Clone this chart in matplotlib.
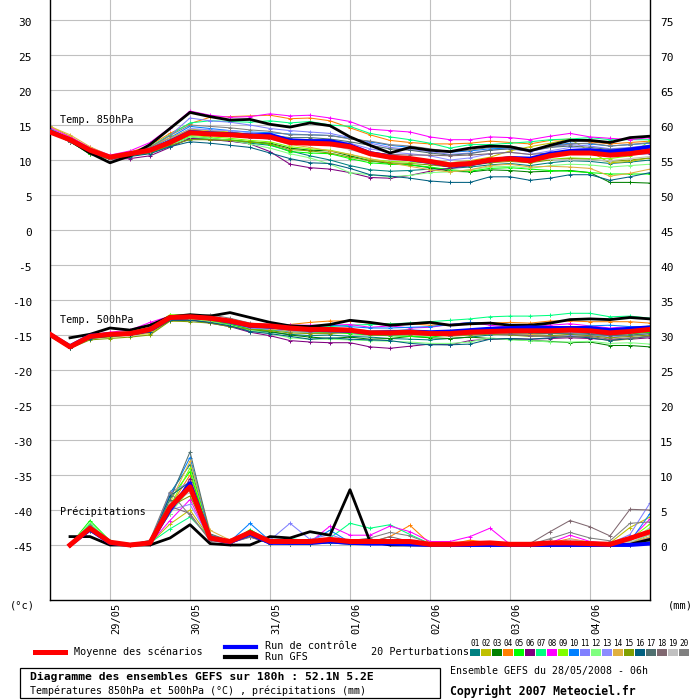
import numpy as np
import matplotlib
matplotlib.use("Agg")
import matplotlib.pyplot as plt
from matplotlib.transforms import blended_transform_factory, offset_copy
from matplotlib.lines import Line2D
from matplotlib.patches import Rectangle

plt.rcParams['font.family'] = ['DejaVu Sans Mono']
nan = np.nan

# ---------------- data ----------------
hours = list(range(0, 181, 6))
day_hours = [18, 42, 66, 90, 114, 138, 162]
day_labels = ['29/05', '30/05', '31/05', '01/06', '02/06', '03/06', '04/06']
left_ticks = list(range(-45, 31, 5))
right_ticks = list(range(0, 76, 5))
member_ids = ['01', '02', '03', '04', '05', '06', '07', '08', '09', '10',
              '11', '12', '13', '14', '15', '16', '17', '18', '19', '20']
member_colors = ['#008080', '#c0c000', '#008000', '#ff8000', '#00ff00', '#800080',
                 '#00ff80', '#ff00ff', '#80ff00', '#0080ff', '#8080ff', '#80ff80',
                 '#8c8cff', '#e0b040', '#80a000', '#006080', '#507070', '#806870',
                 '#c0c0c0', '#808080']

# 850 hPa temperature (°C)
m01_850 = [14.2,12.7,11.1,10.2,10.6,11.0,12.0,13.0,12.9,12.7, 12.4,12.1,11.3,10.6,10.0,9.2,8.6,8.4,8.5,8.7, 8.8,9.0,9.3,9.5,9.2,9.6,9.9,9.8,9.5,9.7, 10.0]
m02_850 = [14.8,13.4,11.6,10.6,11.0,11.8,13.1,14.4,14.2,14.0, 13.7,13.5,12.9,12.8,12.6,12.0,11.0,10.5,10.3,10.0, 9.6,9.9,10.4,11.3,11.9,12.4,13.0,11.2,9.6,9.8, 10.3]
m03_850 = [14.3,12.7,10.8,10.2,10.6,11.0,12.3,13.3,13.1,12.8, 12.6,12.4,11.7,11.4,11.3,10.6,9.9,9.5,9.3,8.9, 8.4,8.3,8.6,8.5,8.3,8.4,8.5,8.2,6.8,6.8, 6.7]
m04_850 = [14.4,13.1,11.5,10.5,11.1,12.1,13.8,15.2,16.1,16.2, 16.3,16.4,15.9,16.0,15.6,14.6,13.6,12.8,12.5,12.3, 12.3,12.4,12.7,12.5,12.3,12.8,13.0,12.6,12.3,12.5, 12.7]
m05_850 = [14.2,12.6,10.9,10.1,10.6,11.1,12.3,13.2,13.0,12.9, 12.6,12.2,11.2,11.0,10.9,10.2,9.6,9.4,9.3,9.0, 8.6,8.4,8.8,8.9,8.7,8.5,8.4,8.2,8.0,8.0, 8.0]
m06_850 = [14.0,12.6,11.0,10.1,10.2,10.6,11.8,13.1,12.9,12.7, 12.3,11.2,9.4,8.9,8.7,8.2,7.5,7.4,7.8,8.4, 8.8,9.2,9.8,10.2,10.3,10.8,11.2,11.4,11.0,10.8, 10.9]
m07_850 = [14.5,13.0,11.4,10.5,10.9,11.9,13.6,15.3,15.6,15.5, 15.4,15.6,15.3,15.5,15.0,14.8,13.8,13.3,12.9,12.4, 11.7,12.2,12.2,12.4,12.6,12.9,13.0,13.2,12.9,12.9, 12.9]
m08_850 = [14.6,13.3,11.8,10.7,11.3,12.5,14.6,17.0,16.4,16.1, 16.2,16.6,16.3,16.4,16.0,15.5,14.4,14.2,14.0,13.3, 12.9,12.9,13.3,13.2,12.9,13.4,13.8,13.3,13.1,12.9, 13.2]
m09_850 = [14.3,12.8,11.2,10.3,10.7,11.2,12.4,13.5,13.3,13.1, 12.8,12.6,11.9,11.6,11.4,10.8,10.1,9.8,9.7,9.6, 9.3,9.5,9.8,10.0,9.8,10.1,10.3,10.2,10.2,10.6, 12.8]
m10_850 = [14.2,12.8,11.3,10.3,10.8,11.6,13.2,14.8,14.5,14.2, 14.0,13.9,13.7,13.6,13.5,13.1,12.6,12.1,11.8,11.5, 11.1,11.3,11.6,11.7,11.4,12.0,12.4,12.3,12.0,12.2, 12.4]
m11_850 = [14.3,12.8,11.2,10.3,10.8,11.7,13.5,16.0,15.6,15.4, 15.0,14.5,14.2,14.0,13.8,13.2,12.4,11.8,11.5,11.2, 10.8,11.0,11.4,11.6,11.2,11.8,12.2,12.0,11.6,11.8, 12.1]
m12_850 = [14.0,12.6,11.0,10.1,10.6,11.0,12.2,13.3,13.1,12.8, 12.3,11.7,10.9,10.3,9.4,8.2,7.9,7.6,7.8,8.2, 8.3,8.6,9.0,9.1,8.8,9.2,9.4,9.3,9.0,9.2, 9.4]
m13_850 = [14.2,12.8,11.3,10.3,10.8,11.5,13.0,14.5,14.3,14.2, 13.9,13.7,13.0,12.9,12.9,12.4,11.6,11.1,10.9,10.6, 10.0,10.3,10.9,11.1,10.8,11.3,11.8,11.6,11.2,11.4, 11.7]
m14_850 = [14.8,13.6,11.9,10.6,11.1,11.9,13.2,14.3,14.1,13.9, 13.4,13.0,12.2,11.8,11.3,10.8,10.2,9.6,9.1,8.6, 8.3,8.6,9.2,9.4,9.0,9.1,9.0,8.8,7.7,8.1, 8.7]
m15_850 = [14.1,12.6,11.0,10.2,10.6,11.0,12.1,12.9,12.9,12.8, 12.6,12.3,11.5,11.3,11.0,10.4,9.9,9.6,9.5,9.3, 9.0,9.2,9.6,9.8,9.6,10.0,10.2,10.1,9.8,10.0, 10.3]
m16_850 = [14.1,12.6,11.0,10.2,10.5,10.9,11.9,12.6,12.4,12.1, 11.8,11.0,10.2,9.6,9.5,8.8,7.9,7.7,7.4,7.0, 6.8,6.8,7.6,7.6,7.1,7.4,7.9,7.9,7.1,7.6, 8.2]
m17_850 = [14.1,12.7,11.2,10.3,10.9,11.4,12.9,14.2,14.0,13.9, 13.7,13.5,13.2,13.2,13.0,12.6,12.1,11.6,11.4,11.0, 10.7,10.9,11.4,11.6,11.3,11.8,12.0,11.8,11.5,11.7, 11.9]
m18_850 = [14.0,12.6,11.1,10.2,10.7,11.3,12.6,13.8,13.6,13.4, 13.2,13.0,12.6,12.5,12.3,11.8,11.1,10.8,10.7,10.7, 10.6,10.7,10.9,11.1,10.8,11.0,11.3,11.2,11.0,11.3, 11.5]
m19_850 = [14.1,12.7,11.1,10.3,10.8,11.3,12.7,14.0,13.8,13.6, 13.3,13.2,12.3,12.2,12.1,11.5,10.7,10.2,10.0,9.8, 9.6,9.8,10.1,10.2,10.0,10.1,10.0,10.0,9.9,10.2, 10.5]
m20_850 = [14.3,12.9,11.3,10.4,10.9,11.8,13.5,15.0,14.8,14.6, 14.3,14.1,13.6,13.6,13.5,13.0,12.7,12.2,12.0,11.6, 11.2,11.4,11.8,12.0,11.5,11.9,12.3,12.4,12.0,12.2, 12.5]
mean_850 = [14.0,12.9,11.4,10.4,10.9,11.4,12.5,13.9,13.7,13.6, 13.4,13.3,12.5,12.4,12.3,11.9,10.9,10.4,10.2,9.8, 9.3,9.5,10.0,10.2,9.9,10.6,11.0,11.0,10.7,10.9, 11.3]
ctrl_850 = [14.1,12.9,11.4,10.4,10.9,11.4,12.6,14.0,13.8,13.7, 13.5,13.6,12.8,12.7,12.7,12.1,11.0,10.5,10.1,9.7, 9.2,9.4,9.9,10.3,10.2,10.9,11.3,11.4,11.2,11.5, 11.9]
gfs_850 = [nan,12.8,11.0,9.6,10.6,12.2,14.5,16.8,16.2,15.7, 15.8,15.1,14.7,15.3,14.9,13.3,12.1,11.0,11.8,11.4, 11.2,11.7,12.0,11.9,11.3,12.1,12.8,12.8,12.5,13.2, 13.4]

# 500 hPa temperature (°C)
m01_500 = [-15.0,-16.8,-15.4,-15.1,-14.9,-14.4,-12.8,-12.8,-13.2,-13.6, -14.4,-14.6,-14.9,-15.1,-15.0,-15.2,-15.3,-15.5,-15.6,-15.7, -15.5,-15.3,-15.0,-14.8,-14.9,-14.8,-14.6,-14.8,-15.0,-14.8, -14.6]
m02_500 = [-15.1,-16.8,-15.5,-15.3,-15.0,-14.8,-13.0,-12.9,-13.0,-13.4, -13.9,-14.0,-14.2,-14.4,-14.6,-14.5,-14.8,-14.7,-14.6,-14.8, -14.9,-14.5,-14.6,-14.7,-14.4,-14.3,-14.5,-14.6,-14.8,-14.6, -14.5]
m03_500 = [-15.0,-16.8,-15.4,-15.1,-14.9,-14.5,-12.9,-12.8,-13.2,-13.5, -14.2,-14.5,-15.0,-15.3,-15.5,-15.3,-15.6,-15.5,-15.2,-15.4, -15.5,-15.3,-15.5,-15.6,-15.8,-15.9,-16.1,-16.0,-16.5,-16.5, -16.7]
m04_500 = [-15.1,-16.9,-15.4,-15.0,-14.8,-14.2,-12.6,-12.5,-12.8,-13.2, -13.8,-13.7,-13.5,-13.2,-13.0,-13.0,-13.3,-13.4,-13.4,-13.6, -13.5,-13.4,-13.3,-13.2,-13.3,-13.0,-13.0,-13.1,-13.1,-13.1, -13.3]
m05_500 = [-14.9,-16.7,-15.2,-14.8,-14.7,-14.1,-12.5,-12.5,-12.9,-13.4, -14.1,-14.3,-14.5,-14.6,-14.6,-14.8,-15.0,-15.1,-15.2,-15.3, -15.0,-14.8,-14.6,-14.6,-14.7,-14.8,-14.6,-14.5,-14.9,-14.8, -14.6]
m06_500 = [-14.9,-16.8,-15.3,-15.0,-15.0,-14.6,-12.9,-12.8,-13.3,-13.8, -14.6,-15.1,-15.8,-16.0,-16.1,-16.1,-16.7,-16.9,-16.6,-16.3, -16.4,-15.8,-15.6,-15.5,-15.6,-15.5,-15.4,-15.5,-15.7,-15.6, -15.4]
m07_500 = [-15.0,-16.8,-15.3,-14.8,-14.6,-13.9,-12.2,-12.1,-12.4,-12.9, -13.5,-13.6,-13.8,-13.9,-13.8,-13.6,-13.5,-13.4,-13.3,-13.1, -12.9,-12.7,-12.4,-12.3,-12.3,-12.2,-11.9,-11.9,-12.4,-12.3, -12.6]
m08_500 = [-14.7,-16.5,-15.0,-14.6,-14.3,-13.2,-12.3,-12.3,-12.6,-13.0, -13.4,-13.5,-13.6,-13.6,-13.6,-13.5,-13.9,-13.7,-14.0,-13.9, -13.5,-13.2,-13.6,-13.9,-13.8,-13.6,-13.4,-13.7,-14.0,-13.8, -13.9]
m09_500 = [-14.8,-16.6,-15.1,-14.8,-14.5,-13.9,-12.1,-12.2,-12.5,-13.0, -13.7,-13.8,-14.1,-14.3,-14.2,-14.3,-14.6,-14.5,-14.4,-14.6, -14.6,-14.4,-14.2,-14.3,-14.2,-14.1,-14.0,-14.2,-14.4,-14.1, -13.7]
m10_500 = [-14.9,-16.7,-15.3,-14.9,-14.7,-14.0,-12.6,-12.3,-12.7,-13.2, -13.8,-14.0,-14.1,-13.9,-13.6,-13.8,-14.0,-14.0,-13.9,-13.8, -13.5,-13.2,-13.3,-13.5,-13.6,-13.8,-13.9,-13.7,-13.6,-13.8, -13.8]
m11_500 = [-15.0,-16.8,-15.4,-15.0,-14.9,-14.3,-12.7,-12.6,-12.8,-13.3, -14.0,-14.2,-14.5,-14.6,-14.4,-14.5,-14.8,-14.9,-14.8,-14.9, -15.0,-14.8,-14.9,-15.0,-15.1,-15.2,-15.0,-15.0,-15.3,-15.1, -14.8]
m12_500 = [-14.9,-16.7,-15.3,-14.9,-14.8,-14.4,-12.6,-12.7,-13.1,-13.6, -14.3,-14.8,-15.4,-15.6,-15.6,-15.7,-15.8,-15.9,-16.0,-16.2, -16.2,-16.0,-15.4,-15.7,-15.8,-16.0,-16.0,-15.9,-16.2,-16.1, -16.3]
m13_500 = [-14.9,-16.7,-15.2,-14.9,-14.7,-14.0,-12.4,-12.4,-12.6,-13.1, -13.7,-13.9,-14.2,-14.3,-14.4,-14.5,-14.6,-14.6,-14.5,-14.7, -14.7,-14.6,-14.4,-14.3,-14.4,-14.5,-14.6,-14.6,-14.9,-14.7, -14.4]
m14_500 = [-15.0,-16.7,-15.3,-15.0,-14.8,-14.3,-12.6,-12.5,-12.7,-13.1, -13.8,-14.1,-14.4,-14.4,-14.3,-14.4,-14.8,-14.8,-14.7,-14.9, -15.2,-15.0,-14.9,-14.8,-14.9,-15.1,-15.2,-15.3,-15.8,-15.6, -15.1]
m15_500 = [-15.2,-16.9,-15.7,-15.5,-15.3,-15.0,-13.0,-13.1,-13.3,-13.8, -14.2,-14.4,-14.7,-14.8,-14.8,-14.6,-14.7,-14.9,-15.0,-14.9, -15.1,-15.0,-14.9,-15.0,-15.2,-15.1,-14.9,-15.1,-15.4,-15.2, -15.0]
m16_500 = [-15.0,-16.9,-15.5,-15.2,-15.0,-14.5,-12.9,-12.9,-13.2,-13.7, -14.5,-14.8,-15.2,-15.6,-15.4,-15.6,-15.7,-15.8,-16.2,-16.4, -16.4,-16.3,-15.6,-15.5,-15.6,-15.4,-15.2,-15.4,-15.8,-15.5, -15.2]
m17_500 = [-14.9,-16.6,-15.2,-14.9,-14.7,-14.1,-12.5,-12.5,-12.8,-13.2, -13.7,-13.9,-14.3,-14.4,-14.3,-14.4,-14.7,-14.7,-14.6,-14.8, -14.9,-14.7,-14.6,-14.7,-14.7,-14.8,-14.8,-14.9,-15.1,-15.0, -14.8]
m18_500 = [-14.8,-16.6,-15.1,-14.8,-14.6,-14.0,-12.4,-12.4,-12.8,-13.2, -13.8,-14.0,-14.3,-14.5,-14.6,-14.6,-14.9,-15.0,-14.9,-15.0, -15.1,-14.9,-14.8,-14.9,-15.1,-15.2,-15.3,-15.2,-15.6,-15.4, -15.2]
m19_500 = [-14.8,-16.6,-15.2,-14.9,-14.7,-14.1,-12.4,-12.3,-12.4,-12.8, -13.4,-13.6,-13.8,-14.0,-14.1,-14.2,-14.4,-14.3,-14.3,-14.5, -14.5,-14.3,-14.2,-14.2,-14.2,-14.3,-14.2,-14.4,-14.6,-14.4, -14.1]
m20_500 = [-14.8,-16.6,-15.1,-14.8,-14.6,-14.0,-12.5,-12.3,-12.1,-12.6, -13.3,-13.6,-13.9,-14.0,-14.0,-14.2,-14.4,-14.4,-14.3,-14.5, -14.4,-14.2,-14.2,-14.0,-13.9,-14.0,-13.9,-14.1,-14.3,-14.1, -13.9]
mean_500 = [-14.9,-16.7,-15.2,-14.9,-14.8,-14.2,-12.5,-12.4,-12.6,-13.0, -13.6,-13.7,-14.0,-14.2,-14.2,-14.3,-14.7,-14.7,-14.6,-14.8, -14.8,-14.6,-14.5,-14.4,-14.4,-14.4,-14.3,-14.4,-14.7,-14.5, -14.2]
ctrl_500 = [-14.9,-16.6,-15.1,-14.9,-14.8,-14.2,-12.5,-12.4,-12.6,-13.1, -13.7,-13.8,-14.0,-14.2,-14.3,-14.4,-14.7,-14.6,-14.5,-14.6, -14.5,-14.3,-14.1,-14.0,-13.9,-14.0,-14.0,-14.0,-14.3,-14.1, -13.9]
gfs_500 = [nan,-15.4,-14.9,-14.0,-14.3,-13.6,-12.4,-12.1,-12.3,-11.8, -12.5,-13.2,-13.7,-13.8,-13.5,-12.9,-13.2,-13.6,-13.4,-13.2, -13.6,-13.4,-13.3,-13.6,-13.6,-13.3,-12.8,-12.7,-12.8,-12.5, -12.7]

# 6-hourly precipitation (mm)
m01_rr = [nan,0,2.3,0.4,0,0.4,7.4,11.5,1.2,0.5, 1.5,0.3,0.3,0.2,0.4,0.2,0.1,0.2,0.1,0, 0,0,0,0,0,0,0,0,0,0.1, 0.3]
m02_rr = [nan,0,2.0,0.3,0,0.2,3.0,5.0,0.9,0.4, 1.2,0.2,0.4,0.3,0.6,0.3,0.3,0.4,0.2,0, 0,0,0,0,0,0,0.3,0.2,0.3,2.5, 4.0]
m03_rr = [nan,0,2.6,0.5,0,0.5,6.0,8.5,1.0,0.6, 1.8,0.5,0.2,0.4,0.8,0.5,0.4,0.3,0.2,0, 0,0,0,0,0,0,0,0,0,0.1, 0.6]
m04_rr = [nan,0,2.2,0.4,0,0.3,5.5,10.0,1.5,0.5, 1.6,0.4,0.3,0.5,0.7,0.3,0.4,1.2,2.8,0.2, 0.1,0.7,0.3,0,0,0.3,0.9,0.4,0.2,0.4, 1.0]
m05_rr = [nan,0,3.5,0.6,0,0.6,6.5,10.5,1.0,0.3, 2.2,0.6,0.3,0.5,0.9,0.5,0.3,0.3,0.2,0, 0,0,0,0,0,0,0,0,0,0.3, 1.5]
m06_rr = [nan,0,2.1,0.3,0,0.4,4.5,9.5,0.8,0.4, 1.4,0.3,0.2,0.2,0.5,0.3,0.2,0.1,0.1,0, 0,0,0,0,0,0,0,0,0,0, 0.2]
m07_rr = [nan,0,3.0,0.5,0,0.3,2.3,4.0,1.1,0.5, 1.7,0.5,0.9,0.6,1.0,3.1,2.4,2.9,1.5,0.2, 0,0,0,0,0,0,0,0,0,0.2, 0.5]
m08_rr = [nan,0,2.4,0.4,0,0.2,3.5,6.5,0.7,0.2, 1.3,0.3,0.6,0.4,2.7,1.4,1.4,2.7,1.9,0.5, 0.5,1.2,2.4,0.1,0,0.3,1.4,0.5,0.2,0.8, 3.7]
m09_rr = [nan,0,2.5,0.4,0,0.5,5.5,11.0,1.3,0.6, 1.9,0.4,0.3,0.3,0.6,0.4,0.3,0.2,0.1,0, 0,0,0,0,0,0,0,0,0,0.8, 3.0]
m10_rr = [nan,0,2.3,0.5,0,0.6,7.0,12.5,1.4,0.5, 3.1,0.6,0.4,0.5,2.1,0.4,0.3,0.4,0.2,0, 0,0,0,0,0,0,0,0,0,0.5, 4.5]
m11_rr = [nan,0,2.2,0.3,0,0.4,7.5,9.0,1.0,0.4, 1.5,0.7,3.1,0.8,1.5,0.5,0.4,0.3,0.2,0, 0,0,0,0,0,0,0,0.1,0.2,1.5, 6.0]
m12_rr = [nan,0,3.2,0.5,0,0.3,4.5,8.0,1.0,0.3, 1.4,0.3,0.4,0.3,0.6,0.4,0.3,0.2,0.1,0, 0,0,0,0,0,0,0,0,0,0.5, 2.5]
m13_rr = [nan,0,2.1,0.3,0,0.3,5.0,5.8,0.9,0.2, 1.3,0.4,0.5,0.4,1.0,0.4,0.3,0.3,0.2,0, 0,0,0,0,0,0,0.2,0.1,0,0.3, 1.0]
m14_rr = [nan,0,2.6,0.5,0,0.4,6.0,12.0,2.1,0.7, 1.8,0.5,0.3,0.4,0.7,0.5,0.4,0.3,0.3,0, 0,0.2,0.1,0,0,0.2,0.5,0.3,0.1,0.3, 1.2]
m15_rr = [nan,0,2.2,0.4,0,0.5,5.5,7.0,1.0,0.4, 1.5,0.4,0.3,0.3,0.5,0.4,0.3,0.3,0.2,0, 0,0,0,0,0,0,0,0,0,0.2, 0.6]
m16_rr = [nan,0,2.0,0.3,0,0.4,7.0,9.0,0.8,0.3, 1.2,0.2,0.1,0.1,0.3,0.1,0.1,0.1,0,0, 0,0,0,0,0,0,0,0,0,0, 0.2]
m17_rr = [nan,0,2.4,0.4,0,0.6,6.5,13.3,1.6,0.6, 2.0,0.5,0.4,0.6,0.8,0.6,0.5,0.5,0.4,0.1, 0,0,0,0,0,0,0,0,0,0.2, 0.5]
m18_rr = [nan,0,2.1,0.3,0,0.3,5.5,4.5,0.6,0.3, 1.1,0.3,0.3,0.4,0.6,0.5,0.4,1.2,0.5,0.1, 0,0,0,0,0.2,1.9,3.5,2.6,1.3,5.1, 5.0]
m19_rr = [nan,0,2.3,0.4,0,0.4,6.0,7.5,1.0,0.4, 1.4,0.4,0.3,0.4,0.6,0.4,0.3,0.3,0.2,0, 0,0,0,0,0,0.1,0.8,0.4,0.2,0.4, 1.5]
m20_rr = [nan,0,2.8,0.5,0,0.7,7.6,4.2,0.8,0.3, 1.4,0.3,0.4,0.5,0.9,0.6,1.0,1.8,1.3,0.2, 0.1,0.1,0,0,0.1,0.9,1.8,1.0,0.6,3.1, 3.3]
mean_rr = [nan,0,2.4,0.4,0,0.3,5.4,8.3,1.0,0.5, 1.8,0.5,0.5,0.5,0.8,0.5,0.5,0.5,0.5,0.1, 0.1,0.2,0.3,0.1,0.1,0.3,0.3,0.2,0.1,0.95, 1.9]
ctrl_rr = [nan,0,2.2,0.3,0,0.3,5.0,8.8,1.0,0.4, 1.6,0.3,0.3,0.3,0.5,0.3,0.2,0.2,0.1,0, 0,0,0,0,0,0,0,0,0,0, 0.2]
gfs_rr = [nan,1.2,1.2,0,0,0,1.0,2.9,0.2,0, 0,1.2,1.0,1.9,1.4,7.9,0.5,0,0,0, 0,0,0,0,0,0,0,0,0,0.1, 0.8]

rr_offset = 45  # precipitation axis: 0 mm sits on -45 °C

members_850 = [m01_850, m02_850, m03_850, m04_850, m05_850, m06_850, m07_850, m08_850, m09_850, m10_850,
               m11_850, m12_850, m13_850, m14_850, m15_850, m16_850, m17_850, m18_850, m19_850, m20_850]
members_500 = [m01_500, m02_500, m03_500, m04_500, m05_500, m06_500, m07_500, m08_500, m09_500, m10_500,
               m11_500, m12_500, m13_500, m14_500, m15_500, m16_500, m17_500, m18_500, m19_500, m20_500]
members_rr = [m01_rr, m02_rr, m03_rr, m04_rr, m05_rr, m06_rr, m07_rr, m08_rr, m09_rr, m10_rr,
              m11_rr, m12_rr, m13_rr, m14_rr, m15_rr, m16_rr, m17_rr, m18_rr, m19_rr, m20_rr]

# ---------------- figure ----------------
W = H = 700
fig = plt.figure(figsize=(7, 7), dpi=100)
fig.patch.set_facecolor('white')

def fx(x):
    return x / W

def fy(y):
    return 1 - y / H

ax = fig.add_axes([fx(50), 100 / H, 600 / W, 600 / H])
ax.set_xlim(0, 180)
ax.set_ylim(-370 / 7, 230 / 7)
ax.set_facecolor('white')

for v in left_ticks:
    ax.axhline(v, color='#c0c0c0', lw=0.8, zorder=0)
for d in day_hours:
    ax.axvline(d, color='#c0c0c0', lw=0.8, zorder=0)

ax.spines['top'].set_visible(False)
for s in ['left', 'right', 'bottom']:
    ax.spines[s].set_color('black')
    ax.spines[s].set_linewidth(1.0)
ax.set_xticks([])
ax.set_yticks([])

def draw_series(vals, offset=0.0, **kw):
    arr = np.array(vals, dtype=float) - offset
    ax.plot(hours, arr, **kw)

pert_kw = dict(lw=0.75, marker='+', ms=3.5, mew=0.7)
for c, s850, s500, srr in zip(member_colors, members_850, members_500, members_rr):
    draw_series(s850, color=c, zorder=2, **pert_kw)
    draw_series(s500, color=c, zorder=2, **pert_kw)
    draw_series(srr, rr_offset, color=c, zorder=2, **pert_kw)

for series, off in [(gfs_850, 0), (gfs_500, 0), (gfs_rr, rr_offset)]:
    draw_series(series, off, color='black', lw=2.0, zorder=3)
for series, off in [(ctrl_850, 0), (ctrl_500, 0), (ctrl_rr, rr_offset)]:
    draw_series(series, off, color='#0000ff', lw=2.8, zorder=4)
for series, off in [(mean_850, 0), (mean_500, 0), (mean_rr, rr_offset)]:
    draw_series(series, off, color='#ff0000', lw=3.6, zorder=5)

# tick labels (manual, slightly below gridlines like the original)
tl = blended_transform_factory(ax.transAxes, ax.transData)
left_tr = offset_copy(tl, fig=fig, x=-18, y=-3, units='dots')
right_tr = offset_copy(tl, fig=fig, x=10, y=-3, units='dots')
for v in left_ticks:
    ax.text(0, v, str(v), transform=left_tr, ha='right', va='center', fontsize=8, clip_on=False)
for v in right_ticks:
    ax.text(1, v - rr_offset, str(v), transform=right_tr, ha='left', va='center', fontsize=8, clip_on=False)

bt = blended_transform_factory(ax.transData, ax.transAxes)
date_tr = offset_copy(bt, fig=fig, x=6, y=-3, units='dots')
for d, lab in zip(day_hours, day_labels):
    ax.text(d, 0, lab, transform=date_tr, rotation=90, ha='center', va='top', fontsize=7.5, clip_on=False)

fig.text(fx(22), fy(606), '(°c)', ha='center', va='center', fontsize=7.5)
fig.text(fx(680), fy(606), '(mm)', ha='center', va='center', fontsize=7.5)

# panel labels
lt = offset_copy(blended_transform_factory(ax.transAxes, ax.transData), fig=fig, x=10, y=0, units='dots')
ax.text(0, 15.7, 'Temp. 850hPa', transform=lt, ha='left', va='center', fontsize=7.3, zorder=6)
ax.text(0, -12.9, 'Temp. 500hPa', transform=lt, ha='left', va='center', fontsize=7.3, zorder=6)
ax.text(0, -40.3, 'Précipitations', transform=lt, ha='left', va='center', fontsize=7.3, zorder=6)

# ---------------- legend ----------------
fig.add_artist(Line2D([fx(35), fx(65)], [fy(652), fy(652)], color='#ff0000', lw=3.6))
fig.text(fx(74), fy(652), 'Moyenne des scénarios', ha='left', va='center', fontsize=7.3)
fig.add_artist(Line2D([fx(225), fx(256)], [fy(646.5), fy(646.5)], color='#0000ff', lw=3.0))
fig.add_artist(Line2D([fx(225), fx(256)], [fy(656.5), fy(656.5)], color='black', lw=3.0))
fig.text(fx(265), fy(646), 'Run de contrôle', ha='left', va='center', fontsize=7.3)
fig.text(fx(265), fy(657), 'Run GFS', ha='left', va='center', fontsize=7.3)
fig.text(fx(371), fy(652), '20 Perturbations', ha='left', va='center', fontsize=7.3)
for i, (mid, c) in enumerate(zip(member_ids, member_colors)):
    x0 = 470 + 11 * i
    fig.add_artist(Rectangle((fx(x0), fy(656)), 10 / W, 7 / H, transform=fig.transFigure,
                             facecolor=c, edgecolor='none'))
    fig.text(fx(x0 + 5), fy(643), mid, ha='center', va='center', fontsize=5.6)

# ---------------- title box ----------------
fig.add_artist(Rectangle((fx(20), fy(698)), 420 / W, 30 / H, transform=fig.transFigure,
                         facecolor='white', edgecolor='black', lw=0.9))
fig.text(fx(30), fy(677), 'Diagramme des ensembles GEFS sur 180h : 52.1N 5.2E',
         ha='left', va='center', fontsize=8.2, fontweight='bold')
fig.text(fx(30), fy(691), 'Températures 850hPa et 500hPa (°C) , précipitations (mm)',
         ha='left', va='center', fontsize=7.2)
fig.text(fx(450), fy(671), 'Ensemble GEFS du 28/05/2008 - 06h', ha='left', va='center', fontsize=7.1)
fig.text(fx(450), fy(691), 'Copyright 2007 Meteociel.fr', ha='left', va='center',
         fontsize=8.3, fontweight='bold')

fig.savefig('out.png', dpi=100, facecolor='white')
